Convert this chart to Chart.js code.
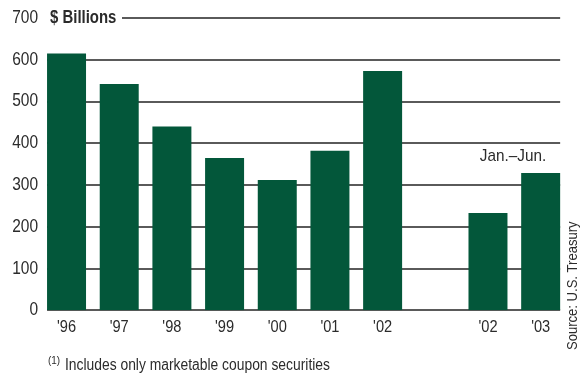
<!DOCTYPE html>
<html>
<head>
<meta charset="utf-8">
<script src="https://cdn.jsdelivr.net/npm/chart.js"></script>
<style>
  html, body { margin: 0; padding: 0; background: #fff; }
  #wrap { position: relative; width: 580px; height: 373px; }
</style>
</head>
<body>
<div id="wrap"><canvas id="myChart" width="580" height="373"></canvas></div>
<script>
// Chart data
const years = ["'96", "'97", "'98", "'99", "'00", "'01", "'02", "", "'02", "'03"];
const issuance = [615, 542, 440, 365, 312, 382, 573, null, 233, 329];
const yTicks = [0, 100, 200, 300, 400, 500, 600, 700];

const FONT = '"Liberation Sans", Arial, sans-serif';
const BAR_GREEN = '#03573a';
const TEXT = '#2b2b2b';

// the original uses a condensed face, so squeeze text horizontally
function condensed(ctx, text, x, y, align, font, sx, rot) {
  ctx.save();
  ctx.translate(x, y);
  if (rot) ctx.rotate(rot);
  ctx.scale(sx, 1);
  ctx.font = font;
  ctx.textAlign = align;
  ctx.textBaseline = 'middle';
  ctx.fillStyle = TEXT;
  ctx.fillText(text, 0, 0);
  ctx.restore();
}

// Draws the horizontal rules (only between the first and last bar) plus all text
const decorPlugin = {
  id: 'decor',
  beforeDatasetsDraw(chart) {
    const ctx = chart.ctx;
    const y = chart.scales.y;
    const bars = chart.getDatasetMeta(0).data;
    const first = bars[0];
    const last = bars[bars.length - 1];
    const x0 = first.x - first.width / 2;
    const x1 = last.x + last.width / 2;
    ctx.save();
    ctx.strokeStyle = '#5a5a5a';
    ctx.lineWidth = 2;
    yTicks.forEach(v => {
      const py = Math.round(y.getPixelForValue(v));
      const start = v === 700 ? 122 : x0;
      ctx.beginPath();
      ctx.moveTo(start, py);
      ctx.lineTo(x1, py);
      ctx.stroke();
    });
    ctx.restore();
  },
  afterDraw(chart) {
    const ctx = chart.ctx;
    const y = chart.scales.y;
    const x = chart.scales.x;

    // y tick labels
    yTicks.forEach(v => {
      condensed(ctx, String(v), 38, y.getPixelForValue(v), 'right', '18px ' + FONT, 0.86);
    });
    // x tick labels
    years.forEach((lbl, i) => {
      if (lbl) condensed(ctx, lbl, x.getPixelForValue(i), 327, 'center', '17px ' + FONT, 0.86);
    });

    // unit label beside the top tick
    condensed(ctx, '$ Billions', 50, y.getPixelForValue(700), 'left', 'bold 18px ' + FONT, 0.83);

    // half-year label
    condensed(ctx, 'Jan.\u2013Jun.', 513, 156, 'center', '17px ' + FONT, 0.9);

    // footnote
    condensed(ctx, '(1)', 48, 361, 'left', '11px ' + FONT, 0.9);
    condensed(ctx, 'Includes only marketable coupon securities', 65, 366, 'left', '16px ' + FONT, 0.866);

    // source, rotated
    condensed(ctx, 'Source: U.S. Treasury', 573, 350, 'left', '15px ' + FONT, 0.87, -Math.PI / 2);
  }
};

const ctx = document.getElementById('myChart').getContext('2d');
const myChart = new Chart(ctx, {
  type: 'bar',
  data: {
    labels: years,
    datasets: [{
      data: issuance,
      backgroundColor: BAR_GREEN,
      borderWidth: 0,
      categoryPercentage: 1,
      barPercentage: 0.74
    }]
  },
  options: {
    responsive: false,
    animation: false,
    layout: { padding: { top: 18, right: 13, bottom: 0, left: 0 } },
    plugins: {
      legend: { display: false },
      tooltip: { enabled: false }
    },
    scales: {
      x: {
        grid: { display: false },
        border: { display: false },
        ticks: { display: false, autoSkip: false },
        afterFit(scale) { scale.height = 62.7; }
      },
      y: {
        min: 0,
        max: 700,
        grid: { display: false },
        border: { display: false },
        afterBuildTicks(scale) { scale.ticks = yTicks.map(v => ({ value: v })); },
        ticks: { display: false },
        afterFit(scale) { scale.width = 40.2; }
      }
    }
  },
  plugins: [decorPlugin]
});
</script>
</body>
</html>
